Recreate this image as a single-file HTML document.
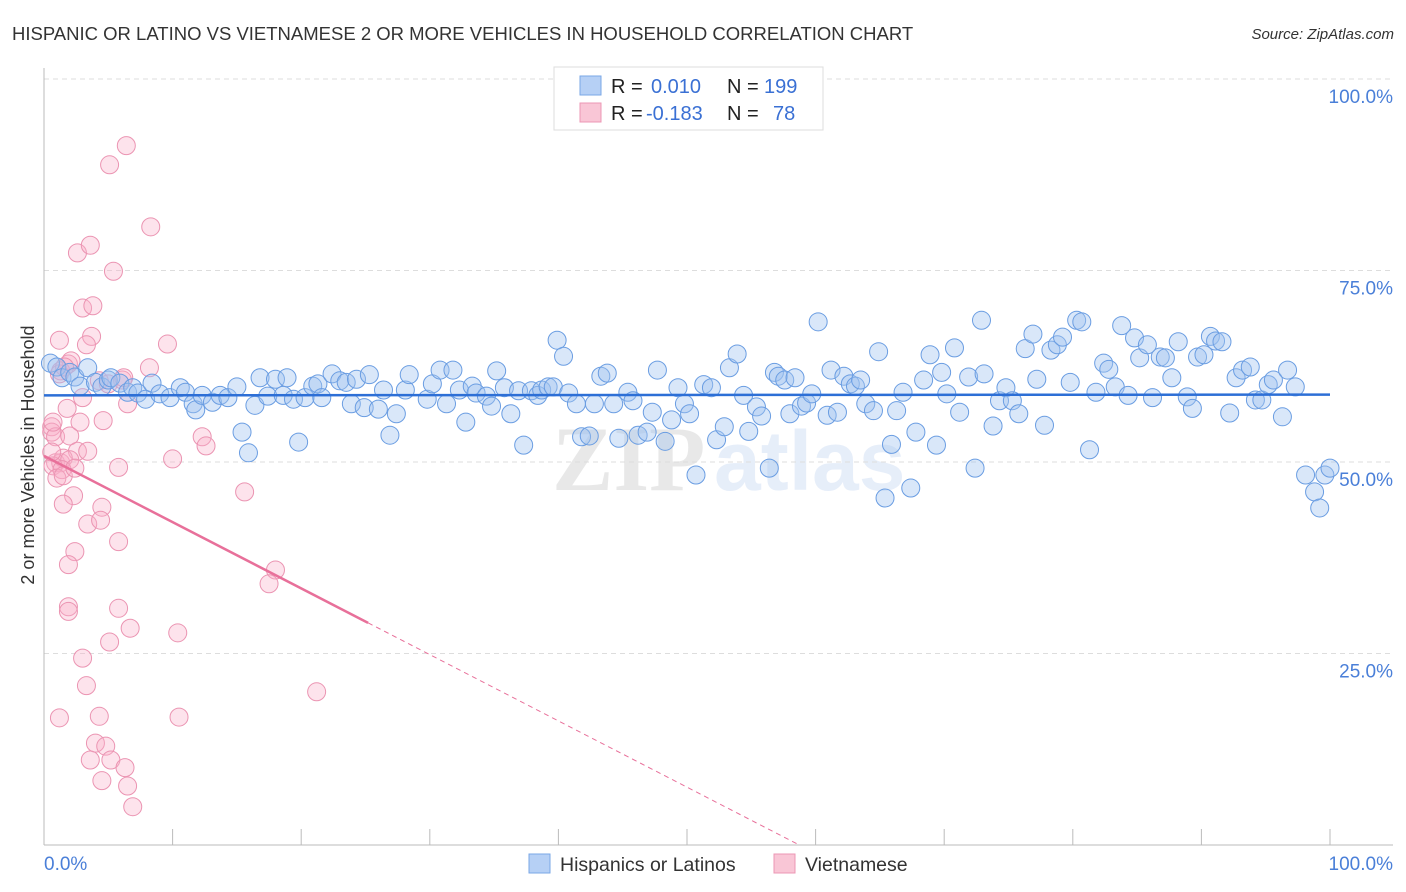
<!DOCTYPE html>
<html><head><meta charset="utf-8">
<style>
body{margin:0;background:#fff;width:1406px;height:892px;overflow:hidden;font-family:"Liberation Sans",sans-serif;}
svg{display:block}
</style></head>
<body>
<svg id="chart" width="1406" height="892" viewBox="0 0 1406 892">
  <text x="12" y="40" font-size="18.5" fill="#333">HISPANIC OR LATINO VS VIETNAMESE 2 OR MORE VEHICLES IN HOUSEHOLD CORRELATION CHART</text>
  <text x="1394" y="39" font-size="15" fill="#333" font-style="italic" text-anchor="end">Source: ZipAtlas.com</text>
  <g opacity="0.13">
    <text x="552" y="490" font-size="92" font-family="Liberation Serif,serif" fill="#555" font-weight="bold">ZIP</text>
    <text x="714" y="490" font-size="84" fill="#4a7fd8" font-weight="bold">atlas</text>
  </g>
  <g id="grid"></g>
  <g id="axes"></g>
  <g id="pink"></g>
  <g id="blue"></g>
  <g id="lines"></g>
  <g>
    <rect x="554" y="67" width="269" height="63" fill="#fff" stroke="#ddd"/>
    <rect x="580" y="76" width="21" height="19" fill="#b6d0f5" stroke="#7aa7e6"/>
    <rect x="580" y="103" width="21" height="19" fill="#f9c6d6" stroke="#ec97b4"/>
    <text x="611" y="93" font-size="20" fill="#222">R = </text>
    <text x="651" y="93" font-size="20" fill="#3a70d4">0.010</text>
    <text x="727" y="93" font-size="20" fill="#222">N = </text>
    <text x="764" y="93" font-size="20" fill="#3a70d4">199</text>
    <text x="611" y="120" font-size="20" fill="#222">R = </text>
    <text x="646" y="120" font-size="20" fill="#3a70d4">-0.183</text>
    <text x="727" y="120" font-size="20" fill="#222">N = </text>
    <text x="773" y="120" font-size="20" fill="#3a70d4">78</text>
  </g>
  <g>
    <rect x="529" y="854" width="21" height="19" fill="#b6d0f5" stroke="#7aa7e6"/>
    <text x="560" y="871" font-size="19.5" fill="#333">Hispanics or Latinos</text>
    <rect x="774" y="854" width="21" height="19" fill="#f9c6d6" stroke="#ec97b4"/>
    <text x="805" y="871" font-size="19.5" fill="#333">Vietnamese</text>
  </g>
  <text transform="translate(34,455) rotate(-90)" font-size="18" fill="#333" text-anchor="middle">2 or more Vehicles in Household</text>
</svg>
<script>
const blueX=[0.5,1.0,1.4,2.0,2.4,3.4,2.8,4.0,4.5,5.0,5.2,5.9,6.5,6.9,7.3,7.9,8.4,9.0,9.8,10.6,11.0,11.6,11.8,12.3,13.1,13.7,14.3,15.0,15.4,15.9,16.4,16.8,17.4,18.0,18.6,18.9,19.4,19.8,20.3,20.9,21.3,21.6,22.4,23.0,23.5,23.9,24.3,24.9,25.3,26.0,26.4,26.9,27.4,28.1,28.4,29.8,30.2,30.8,31.3,31.8,32.3,32.8,33.3,33.6,34.4,34.8,35.2,35.8,36.3,36.9,37.3,37.9,38.4,38.7,39.2,39.6,39.9,40.4,40.8,41.4,41.8,42.4,42.8,43.3,43.8,44.3,44.7,45.4,45.8,46.2,46.9,47.3,47.7,48.3,48.8,49.3,49.8,50.2,50.7,51.3,51.9,52.3,52.9,53.3,53.9,54.4,54.8,55.4,55.8,56.4,56.8,57.1,57.6,58.0,58.4,58.9,59.3,59.7,60.2,60.9,61.2,61.7,62.2,62.7,63.1,63.5,63.9,64.5,64.9,65.4,65.9,66.3,66.8,67.4,67.8,68.4,68.9,69.4,69.8,70.2,70.8,71.2,71.9,72.4,72.9,73.1,73.8,74.3,74.8,75.3,75.8,76.3,76.9,77.2,77.8,78.3,78.8,79.2,79.8,80.3,80.7,81.3,81.8,82.4,82.8,83.3,83.8,84.3,84.8,85.2,85.8,86.2,86.8,87.2,87.7,88.2,88.9,89.3,89.7,90.2,90.7,91.1,91.6,92.2,92.7,93.2,93.8,94.2,94.7,95.2,95.6,96.3,96.7,97.3,98.1,98.8,99.2,99.6,100];
const blueY=[62.9,62.4,61.0,61.7,61.1,62.3,59.9,60.4,59.8,60.7,61.0,60.3,59.1,59.7,59.0,58.2,60.3,58.9,58.4,59.7,59.1,57.6,56.8,58.7,57.8,58.7,58.4,59.8,53.9,51.2,57.4,61.0,58.6,60.8,58.7,61.0,58.2,52.6,58.4,59.9,60.2,58.4,61.5,60.6,60.4,57.6,60.8,57.1,61.4,56.9,59.4,53.5,56.3,59.4,61.4,58.2,60.2,62.0,57.6,62.0,59.4,55.2,59.9,59.0,58.6,57.3,61.9,59.7,56.3,59.3,52.2,59.3,58.7,59.4,59.8,59.8,65.9,63.8,59.0,57.6,53.3,53.4,57.6,61.2,61.6,57.6,53.1,59.1,58.0,53.5,53.9,56.5,62.0,52.7,55.5,59.7,57.6,56.3,48.3,60.1,59.7,52.9,54.6,62.3,64.1,58.7,54.0,57.2,56.0,49.2,61.7,61.2,60.7,56.3,61.0,57.3,57.7,58.9,68.3,56.1,62.0,56.5,61.2,60.2,59.9,60.7,57.6,56.7,64.4,45.3,52.3,56.7,59.1,46.6,53.9,60.7,64.0,52.2,61.7,58.9,64.9,56.5,61.1,49.2,68.5,61.5,54.7,58.0,59.7,58.0,56.3,64.8,66.7,60.8,54.8,64.6,65.3,66.3,60.4,68.5,68.3,51.6,59.1,62.9,62.1,59.8,67.8,58.7,66.2,63.6,65.3,58.4,63.7,63.6,61.0,65.7,58.5,57.0,63.7,64.0,66.4,65.8,65.7,56.4,61.0,62.0,62.4,58.1,58.1,60.1,60.7,55.9,62.0,59.8,48.3,46.1,44.0,48.3,49.2];
const pinkX=[6.4,5.1,8.3,2.6,3.6,5.4,3.0,3.8,3.7,3.3,9.6,1.9,2.1,8.2,1.3,1.2,4.3,6.1,5.0,3.0,6.5,1.8,4.6,0.6,0.6,0.9,2.8,2.0,2.6,3.4,12.3,12.6,10.0,0.9,1.3,1.5,5.8,2.0,0.7,15.6,2.3,1.5,4.5,3.4,4.4,5.8,2.4,1.9,18.0,17.5,1.9,1.9,5.8,6.7,10.4,5.1,3.0,3.3,21.2,1.2,4.3,10.5,4.0,4.8,3.6,5.2,4.5,6.3,6.5,6.9,0.7,0.6,1.4,1.0,1.5,2.4,1.6,1.2,6.2];
const pinkY=[91.3,88.8,80.7,77.3,78.3,74.9,70.1,70.4,66.4,65.3,65.4,62.8,63.2,62.3,61.9,61.5,60.6,60.7,60.2,58.4,57.6,57.0,55.4,54.6,53.9,53.3,55.2,53.4,51.4,51.4,53.3,52.1,50.4,49.9,49.9,50.5,49.3,50.3,49.5,46.1,45.6,44.5,44.1,41.9,42.4,39.6,38.3,36.6,35.9,34.1,31.1,30.5,30.9,28.3,27.7,26.5,24.4,20.8,20.0,16.6,16.8,16.7,13.3,12.9,11.1,11.1,8.4,10.1,7.7,5.0,55.2,51.3,49.0,47.9,48.2,49.2,62.4,65.9,61.0];
const blueTrend=[58.7,58.8];
const pinkTrend=[50.8,-0.865];
const pinkSolidEnd=25.2;
const yTicks=[25,50,75,100];
const yTickLabels=["25.0%","50.0%","75.0%","100.0%"];
const xTicks=[0,10,20,30,40,50,60,70,80,90,100];

const X0=44,X1=1330,Y0=845,Y100=79;
const sx=v=>X0+(X1-X0)*v/100;
const sy=v=>Y0-(Y0-Y100)*v/100;
const NS="http://www.w3.org/2000/svg";
function mk(tag,attrs,parent){const e=document.createElementNS(NS,tag);for(const k in attrs)e.setAttribute(k,attrs[k]);parent.appendChild(e);return e;}
const grid=document.getElementById('grid'),axes=document.getElementById('axes');
yTicks.forEach((t,i)=>{
  const g=mk('line',{x1:44,x2:1393,y1:sy(t),y2:sy(t),stroke:'#ddd','stroke-dasharray':'5,4'},grid);
  
  
  const l=mk('text',{x:1393,y:sy(t)+24,'font-size':19,fill:'#4a7fd8','text-anchor':'end'},axes);
  l.textContent=yTickLabels[i];
  
  
});
const ax=mk('line',{x1:44,x2:1393,y1:Y0,y2:Y0,stroke:'#bbb'},axes);


const ay=mk('line',{x1:44,x2:44,y1:68,y2:Y0,stroke:'#bbb'},axes);


xTicks.forEach(t=>{
  const k=mk('line',{x1:sx(t),x2:sx(t),y1:Y0-16,y2:Y0,stroke:'#bbb'},axes);
  
  
});
const xl=mk('text',{x:44,y:870,'font-size':19,fill:'#4a7fd8'},axes);xl.textContent='0.0%';


const xr=mk('text',{x:1393,y:870,'font-size':19,fill:'#4a7fd8','text-anchor':'end'},axes);xr.textContent='100.0%';



const pg=document.getElementById('pink');
pinkX.forEach((v,i)=>{
  const c=mk('circle',{cx:sx(v),cy:sy(pinkY[i]),r:9,fill:'rgba(248,175,200,0.35)',stroke:'#eb94b2','stroke-width':1},pg);
  
  
});
const bg=document.getElementById('blue');
blueX.forEach((v,i)=>{
  const c=mk('circle',{cx:sx(v),cy:sy(blueY[i]),r:9,fill:'rgba(160,195,240,0.4)',stroke:'#6a9de2','stroke-width':1},bg);
  
  
});
const lg=document.getElementById('lines');
const bl=mk('line',{x1:sx(0),x2:sx(100),y1:sy(blueTrend[0]),y2:sy(blueTrend[1]),stroke:'#2d6fd6','stroke-width':2.5},lg);


const py=x=>pinkTrend[0]+pinkTrend[1]*x;
const pl=mk('line',{x1:sx(0),x2:sx(pinkSolidEnd),y1:sy(py(0)),y2:sy(py(pinkSolidEnd)),stroke:'#e8709a','stroke-width':2.5},lg);


const zeroX=-pinkTrend[0]/pinkTrend[1];
const pd=mk('line',{x1:sx(pinkSolidEnd),x2:sx(zeroX),y1:sy(py(pinkSolidEnd)),y2:sy(0),stroke:'#e8709a','stroke-width':1,'stroke-dasharray':'5,4'},lg);


</script>
</body></html>
